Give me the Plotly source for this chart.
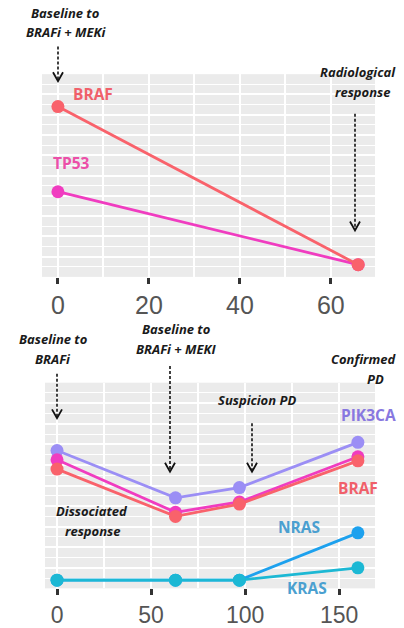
import plotly.graph_objects as go

W, H = 404, 628

# ---- data ----
top_days = [0, 66]
top_braf = [84, 6]
top_tp53 = [42, 6]
top_ticks = [0, 20, 40, 60]

bot_days = [0, 63, 97, 160]
bot_pik3ca = [67, 44, 49, 71]
bot_tp53 = [62.5, 37, 42, 64]
bot_braf = [58, 35, 41, 62]
bot_nras = [4, 4, 4, 27]
bot_kras = [4, 4, 4, 10]
bot_ticks = [0, 50, 100, 150]

C_BRAF = "#F9626B"
C_TP53 = "#F03CC0"
C_PIK = "#9B8EF5"
C_NRAS = "#1DA1EE"
C_KRAS = "#1CB8D4"


def px(x):
    return x / W


def py(y):
    return 1 - y / H


fig = go.Figure()


def add_line(xs, ys, color, xa, ya):
    fig.add_trace(go.Scatter(x=xs, y=ys, mode="lines+markers", xaxis=xa, yaxis=ya,
                             line=dict(color=color, width=2.8),
                             marker=dict(color=color, size=13),
                             showlegend=False, hoverinfo="skip"))


add_line(top_days, top_tp53, C_TP53, "x", "y")
add_line(top_days, top_braf, C_BRAF, "x", "y")

add_line(bot_days, bot_pik3ca, C_PIK, "x2", "y2")
add_line(bot_days, bot_tp53, C_TP53, "x2", "y2")
add_line(bot_days, bot_braf, C_BRAF, "x2", "y2")
add_line(bot_days, bot_nras, C_NRAS, "x2", "y2")
add_line(bot_days, bot_kras, C_KRAS, "x2", "y2")

axis_common = dict(showline=False, zeroline=False, gridcolor="white",
                   ticks="outside", ticklen=6, tickwidth=2.5, tickcolor="#333333")

fig.update_layout(
    width=W, height=H, margin=dict(l=0, r=0, t=0, b=0),
    paper_bgcolor="white", plot_bgcolor="#EBEBEB",
    xaxis=dict(domain=[px(42), px(375)], anchor="y", range=[-3.5, 69.7],
               tickvals=top_ticks, gridwidth=2,
               tickfont=dict(family="Liberation Sans", size=25, color="#555555"),
               minor=dict(dtick=10, tick0=0, showgrid=True, gridcolor="white", gridwidth=1.5, ticks=""),
               **axis_common),
    yaxis=dict(domain=[py(280), py(75)], anchor="x", range=[0, 100],
               showticklabels=False, showgrid=True, gridcolor="white", gridwidth=2,
               dtick=10, zeroline=False, showline=False, ticks="",
               minor=dict(dtick=5, showgrid=True, gridcolor="white", gridwidth=1)),
    xaxis2=dict(domain=[px(45), px(375)], anchor="y2", range=[-6.4, 169.1],
                tickvals=bot_ticks, gridwidth=2,
                tickfont=dict(family="Liberation Sans", size=23, color="#555555"),
                minor=dict(dtick=25, tick0=0, showgrid=True, gridcolor="white", gridwidth=1.5, ticks=""),
                **axis_common),
    yaxis2=dict(domain=[py(595), py(387)], anchor="x2", range=[0, 100],
                showticklabels=False, showgrid=True, gridcolor="white", gridwidth=2,
                dtick=10, zeroline=False, showline=False, ticks="",
                minor=dict(dtick=5, showgrid=True, gridcolor="white", gridwidth=1)),
)

shapes = []


def arrow(x, y0, y1):
    shapes.append(dict(type="line", xref="paper", yref="paper",
                       x0=px(x), x1=px(x), y0=py(y0), y1=py(y1 - 1),
                       line=dict(color="#111111", width=1.6, dash="3px,2px")))
    path = "M {} {} L {} {} L {} {}".format(px(x - 5), py(y1 - 9), px(x), py(y1), px(x + 5), py(y1 - 9))
    shapes.append(dict(type="path", xref="paper", yref="paper", path=path,
                       line=dict(color="#111111", width=1.8)))


arrow(58, 47, 82)
arrow(355, 115, 233)
arrow(57, 378, 423)
arrow(170, 370, 477)
arrow(252, 428, 477)

fig.update_layout(shapes=shapes)

anns = []


def note(text, x, y, xanchor="center"):
    anns.append(dict(text="<b><i>" + text + "</i></b>", x=px(x), y=py(y), xref="paper", yref="paper",
                     xanchor=xanchor, yanchor="middle", showarrow=False,
                     font=dict(family="Open Sans", size=13, color="#1a1a1a")))


def label(text, x, y, color):
    anns.append(dict(text="<b>" + text + "</b>", x=px(x), y=py(y), xref="paper", yref="paper",
                     xanchor="center", yanchor="middle", showarrow=False,
                     font=dict(family="Open Sans", size=15.5, color=color)))


note("Baseline to", 65, 13)
note("BRAFi + MEKi", 66, 32)
note("Radiological", 398, 73, "right")
note("response", 392, 93, "right")
note("Baseline to", 53, 343)
note("BRAFi", 53, 363)
note("Baseline to", 176, 333)
note("BRAFi + MEKI", 176, 353)
note("Suspicion PD", 257, 405)
note("Confirmed", 399, 363, "right")
note("PD", 386, 383, "right")
note("Dissociated", 92, 517)
note("response", 92, 537)

label("BRAF", 93, 95, "#F0606A")
label("TP53", 71, 165, "#EC4FA8")
label("PIK3CA", 368, 420, "#8878E0")
label("BRAF", 358, 493, "#F0606A")
label("NRAS", 299, 533, "#4A9FD0")
label("KRAS", 307, 595, "#4AA0D0")

fig.update_layout(annotations=anns)

fig.write_html("out.html", config={"displayModeBar": False},
               post_script="document.body.style.margin='0';document.body.style.overflow='hidden';")
